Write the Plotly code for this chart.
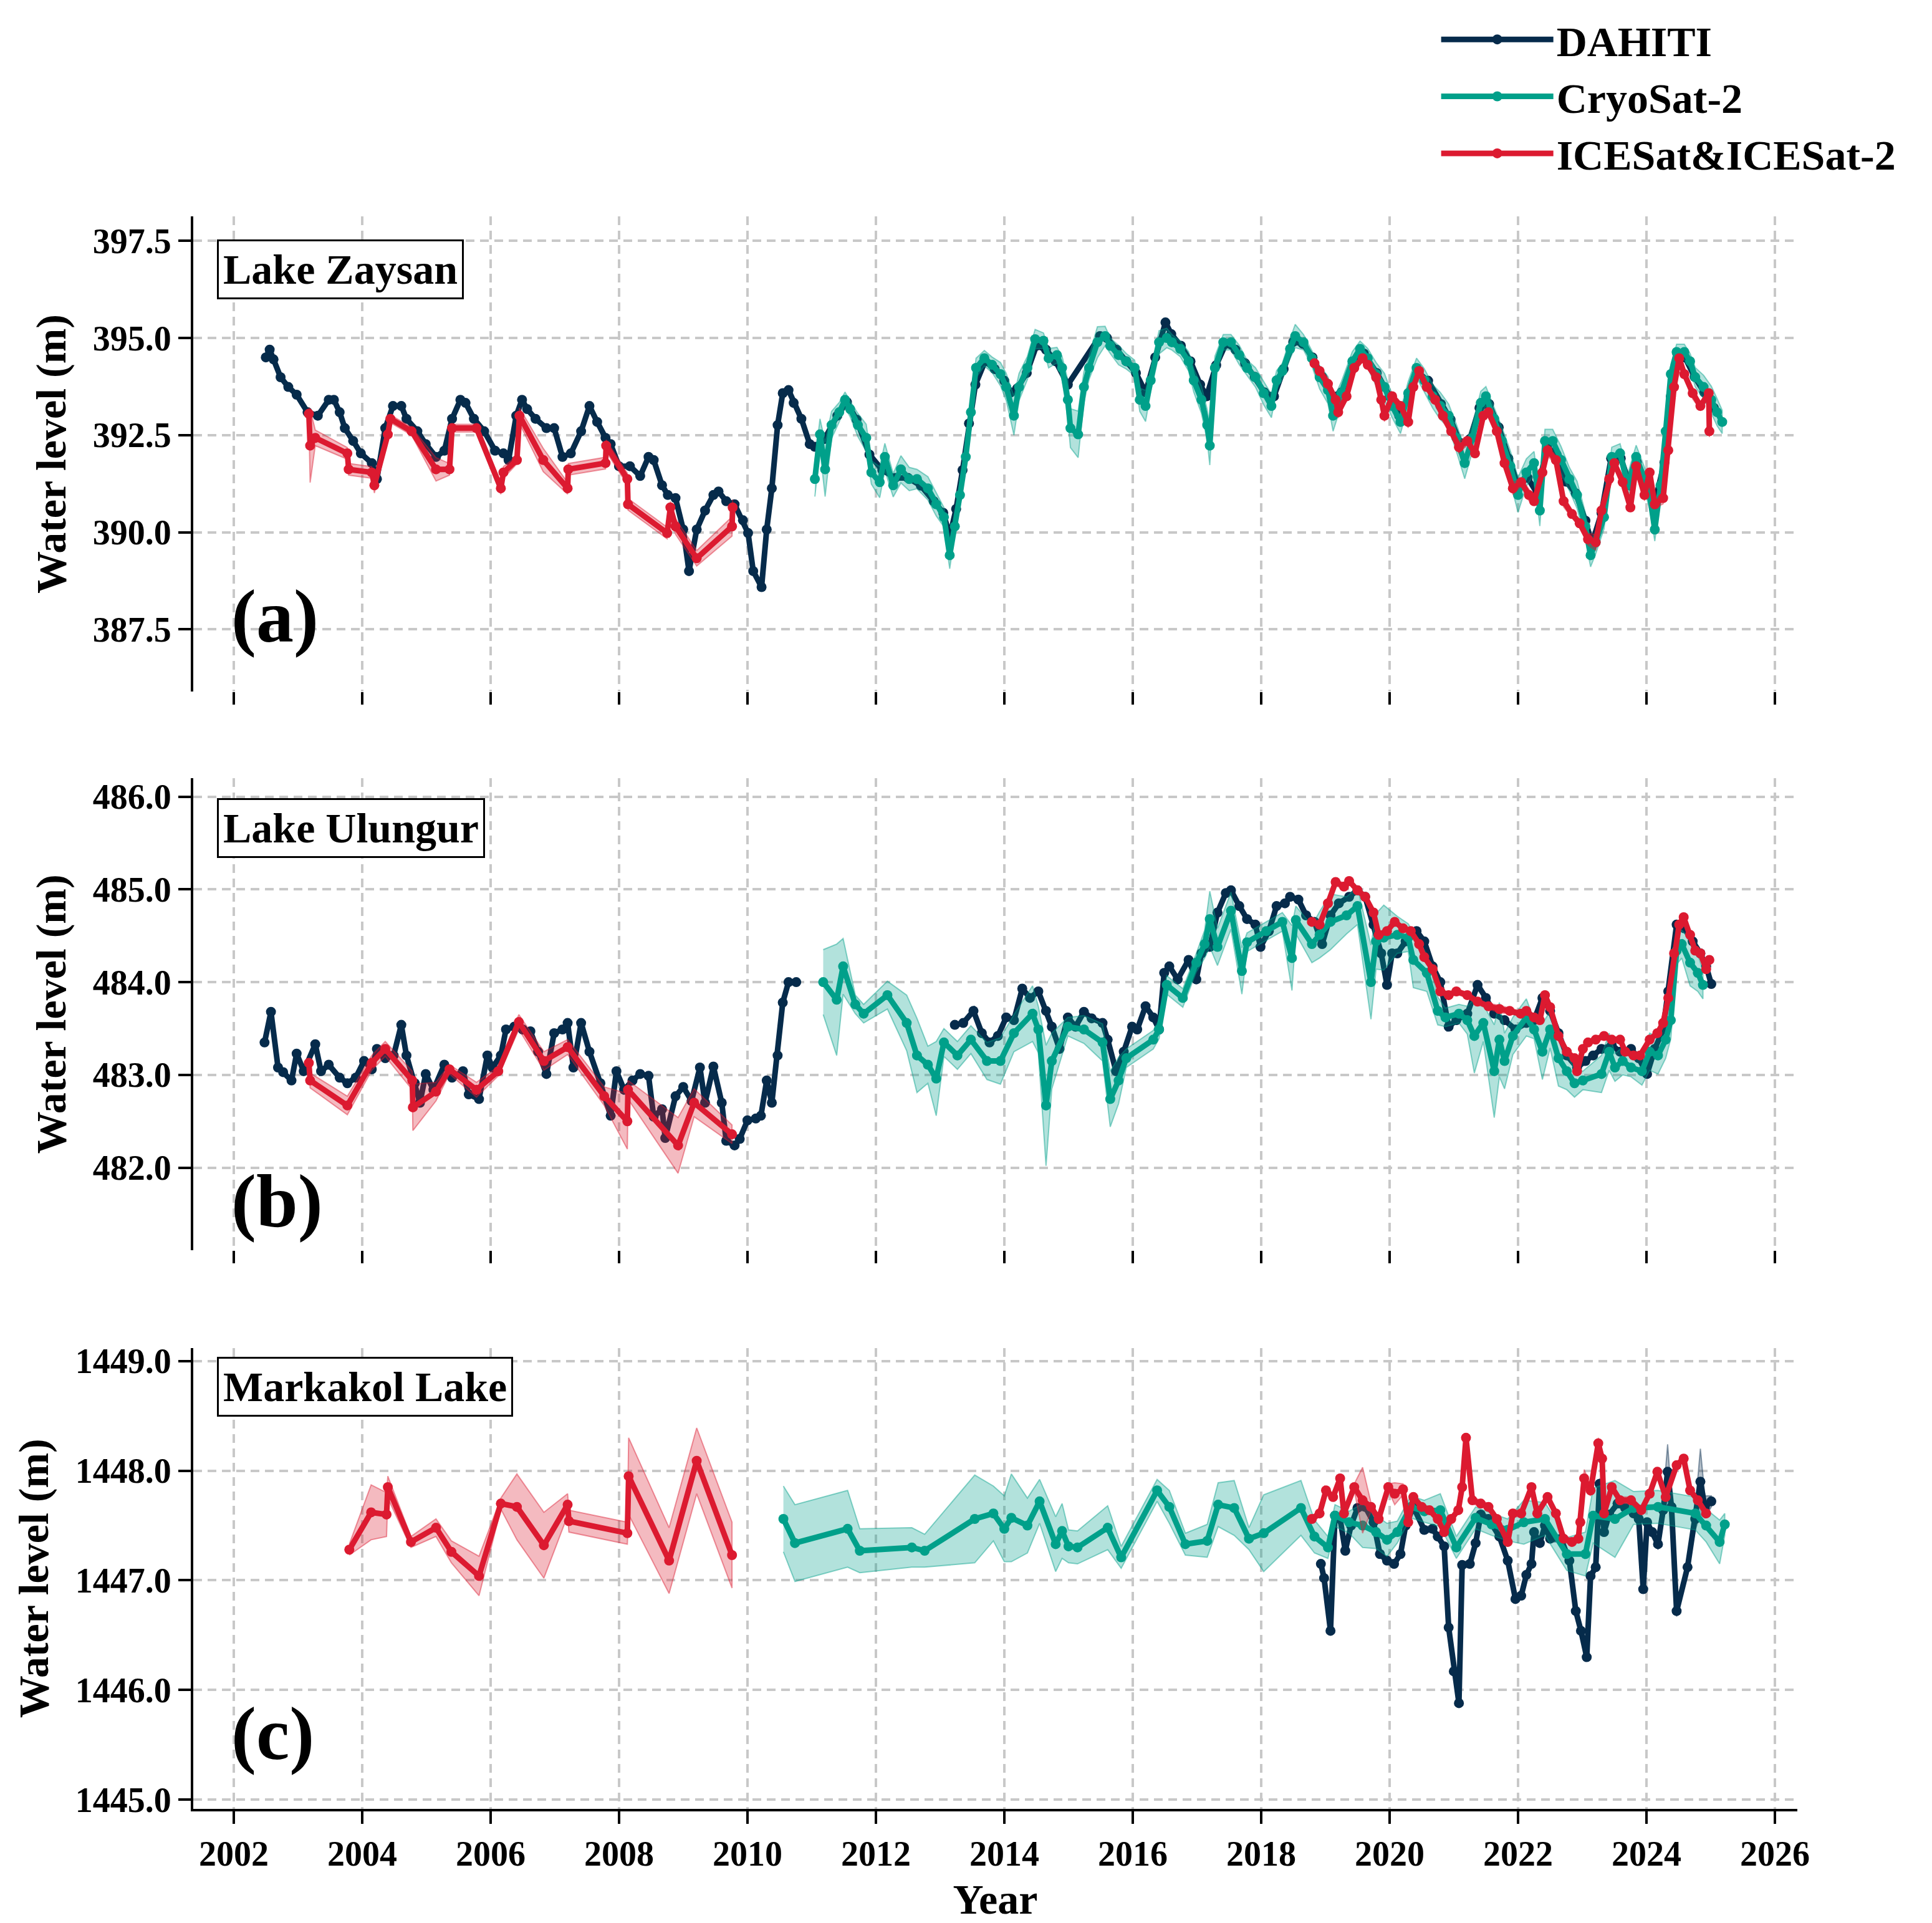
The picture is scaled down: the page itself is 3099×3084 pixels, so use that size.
import plotly.graph_objects as go
from plotly.subplots import make_subplots

# ---------------- Lake Zaysan ----------------
zaysan_dahiti_year = [2002.50, 2002.56, 2002.62, 2002.73, 2002.85, 2002.98, 2003.15, 2003.31, 2003.48, 2003.56,
                      2003.65, 2003.73, 2003.86, 2003.98, 2004.15, 2004.23, 2004.36, 2004.48, 2004.61, 2004.69,
                      2004.86, 2004.99, 2005.15, 2005.28, 2005.40, 2005.53, 2005.61, 2005.74, 2005.90, 2006.07,
                      2006.20, 2006.28, 2006.40, 2006.49, 2006.57, 2006.70, 2006.87, 2006.99, 2007.12, 2007.25,
                      2007.41, 2007.54, 2007.66, 2007.79, 2007.87, 2008.00, 2008.17, 2008.33, 2008.46, 2008.54,
                      2008.67, 2008.76, 2008.88, 2009.00, 2009.09, 2009.21, 2009.34, 2009.47, 2009.55, 2009.67,
                      2009.80, 2009.93, 2010.01, 2010.09, 2010.22, 2010.30, 2010.38, 2010.47, 2010.55, 2010.64,
                      2010.72, 2010.84, 2010.97, 2011.05, 2011.20, 2011.40, 2011.55, 2011.70, 2011.90, 2012.10,
                      2012.30, 2012.50, 2012.70, 2012.90, 2013.05, 2013.15, 2013.25, 2013.35, 2013.45, 2013.55,
                      2013.70, 2013.85, 2014.00, 2014.10, 2014.20, 2014.35, 2014.50, 2014.65, 2014.80, 2014.99,
                      2015.49, 2015.60, 2015.75, 2015.90, 2016.05, 2016.20, 2016.35, 2016.51, 2016.60, 2016.75,
                      2016.90, 2017.05, 2017.15, 2017.30, 2017.45, 2017.60, 2017.75, 2017.90, 2018.05, 2018.20,
                      2018.35, 2018.50, 2018.65, 2018.80, 2018.95, 2019.10, 2019.25, 2019.45, 2019.60, 2019.80,
                      2020.00, 2020.15, 2020.30, 2020.45, 2020.60, 2020.80, 2020.95, 2021.10, 2021.25, 2021.40,
                      2021.55, 2021.70, 2021.85, 2022.00, 2022.15, 2022.30, 2022.45, 2022.60, 2022.75, 2022.90,
                      2023.05, 2023.15, 2023.30, 2023.45, 2023.60, 2023.75, 2023.85, 2024.00, 2024.15, 2024.28,
                      2024.38, 2024.48, 2024.60, 2024.75, 2024.90, 2025.05]
zaysan_dahiti_level = [394.50, 394.70, 394.45, 393.99, 393.74, 393.54, 393.09, 393.00, 393.41, 393.41,
                       393.09, 392.68, 392.35, 392.03, 391.78, 391.37, 392.68, 393.25, 393.25, 392.92,
                       392.60, 392.27, 391.94, 392.10, 392.92, 393.41, 393.33, 392.92, 392.60, 392.10,
                       392.03, 391.86, 393.00, 393.41, 393.17, 392.92, 392.68, 392.68, 391.94, 392.03,
                       392.60, 393.25, 392.84, 392.43, 392.27, 391.70, 391.70, 391.45, 391.94, 391.86,
                       391.21, 390.96, 390.88, 390.07, 389.00, 390.07, 390.56, 390.96, 391.05, 390.80,
                       390.72, 390.31, 389.98, 389.00, 388.59, 390.07, 391.13, 392.76, 393.58, 393.66,
                       393.33, 392.92, 392.27, 392.20, 392.40, 393.00, 393.35, 392.90, 392.00, 391.60,
                       391.40, 391.40, 391.20, 390.80, 390.50, 389.90, 390.60, 391.60, 392.80, 393.80,
                       394.40, 394.20, 393.90, 393.60, 393.70, 394.10, 394.80, 394.70, 394.40, 393.80,
                       395.05, 395.00, 394.70, 394.40, 394.10, 393.60, 394.50, 395.40, 395.10, 394.80,
                       394.40, 393.80, 393.50, 394.30, 394.85, 394.70, 394.35, 394.00, 393.60, 393.50,
                       394.20, 394.90, 394.85, 394.50, 394.00, 393.50, 393.60, 394.40, 394.60, 394.10,
                       393.50, 393.00, 393.50, 394.10, 393.90, 393.30, 392.90, 392.30, 392.40, 393.20,
                       393.30, 392.70, 391.90, 391.20, 391.40, 391.00, 392.20, 392.00, 391.30, 391.00,
                       390.30, 389.70, 390.50, 391.90, 391.90, 391.20, 391.80, 391.20, 390.90, 391.80,
                       393.50, 394.60, 394.50, 394.00, 393.60, 393.20]

zaysan_cryo_year = [2011.05, 2011.13, 2011.21, 2011.31, 2011.43, 2011.52, 2011.60, 2011.72, 2011.85, 2011.93,
                    2012.06, 2012.14, 2012.27, 2012.39, 2012.52, 2012.64, 2012.81, 2012.94, 2013.06, 2013.15,
                    2013.23, 2013.31, 2013.40, 2013.48, 2013.56, 2013.69, 2013.81, 2013.94, 2014.03, 2014.15,
                    2014.23, 2014.36, 2014.48, 2014.61, 2014.69, 2014.82, 2014.90, 2014.99, 2015.03, 2015.15,
                    2015.24, 2015.32, 2015.45, 2015.57, 2015.65, 2015.78, 2015.90, 2016.03, 2016.11, 2016.20,
                    2016.28, 2016.41, 2016.53, 2016.61, 2016.74, 2016.87, 2016.95, 2017.07, 2017.16, 2017.20,
                    2017.28, 2017.41, 2017.53, 2017.66, 2017.78, 2017.91, 2018.04, 2018.16, 2018.24, 2018.33,
                    2018.45, 2018.53, 2018.66, 2018.79, 2018.91, 2019.04, 2019.12, 2019.25, 2019.42, 2019.54,
                    2019.66, 2019.79, 2019.92, 2020.04, 2020.17, 2020.29, 2020.42, 2020.54, 2020.67, 2020.79,
                    2020.92, 2021.04, 2021.17, 2021.29, 2021.42, 2021.50, 2021.63, 2021.75, 2021.88, 2022.00,
                    2022.13, 2022.25, 2022.34, 2022.42, 2022.54, 2022.67, 2022.80, 2022.92, 2023.05, 2023.13,
                    2023.21, 2023.34, 2023.46, 2023.59, 2023.71, 2023.84, 2023.97, 2024.05, 2024.13, 2024.22,
                    2024.30, 2024.38, 2024.47, 2024.59, 2024.68, 2024.76, 2024.89, 2025.01, 2025.10, 2025.18]
zaysan_cryo_level = [391.37, 392.52, 391.62, 392.76, 393.09, 393.41, 393.17, 392.76, 392.43, 391.54,
                     391.29, 391.94, 391.21, 391.62, 391.37, 391.37, 391.13, 390.72, 390.39, 389.41,
                     390.15, 390.96, 391.94, 393.09, 394.23, 394.48, 394.31, 394.07, 393.74, 393.00,
                     393.74, 394.23, 394.97, 394.93, 394.48, 394.56, 394.23, 393.41, 392.68, 392.52,
                     393.74, 394.23, 394.89, 395.05, 394.80, 394.56, 394.40, 394.23, 393.41, 393.25,
                     393.91, 394.89, 395.00, 394.89, 394.72, 394.40, 393.91, 393.41, 392.76, 392.23,
                     394.23, 394.89, 394.89, 394.56, 394.23, 393.99, 393.58, 393.25, 393.91, 394.15,
                     394.72, 395.05, 394.89, 394.48, 393.99, 393.66, 393.00, 393.58, 394.40, 394.72,
                     394.48, 394.07, 393.74, 393.25, 392.84, 393.58, 394.23, 393.91, 393.50, 393.25,
                     393.00, 392.43, 391.78, 392.43, 393.33, 393.50, 392.92, 392.35, 391.70, 390.96,
                     391.54, 391.78, 390.56, 392.35, 392.35, 391.86, 391.37, 390.96, 390.15, 389.41,
                     389.74, 390.39, 391.94, 392.03, 391.21, 391.94, 391.37, 390.96, 390.07, 391.21,
                     392.60, 394.07, 394.64, 394.64, 394.40, 393.99, 393.74, 393.41, 393.09, 392.84]
zaysan_cryo_err = [0.45, 0.40, 0.70, 0.35, 0.25, 0.20, 0.20, 0.30, 0.35, 0.30,
                   0.40, 0.35, 0.30, 0.35, 0.30, 0.25, 0.30, 0.30, 0.25, 0.35,
                   0.20, 0.20, 0.20, 0.20, 0.25, 0.20, 0.20, 0.30, 0.35, 0.50,
                   0.35, 0.30, 0.25, 0.20, 0.25, 0.20, 0.30, 0.50, 0.50, 0.60,
                   0.40, 0.30, 0.40, 0.25, 0.20, 0.25, 0.20, 0.20, 0.30, 0.40,
                   0.30, 0.30, 0.25, 0.20, 0.20, 0.25, 0.30, 0.35, 0.40, 0.50,
                   0.30, 0.20, 0.20, 0.25, 0.20, 0.25, 0.30, 0.30, 0.25, 0.20,
                   0.25, 0.30, 0.20, 0.20, 0.30, 0.35, 0.40, 0.30, 0.25, 0.20,
                   0.25, 0.30, 0.35, 0.30, 0.30, 0.30, 0.25, 0.30, 0.30, 0.35,
                   0.30, 0.35, 0.40, 0.35, 0.30, 0.25, 0.30, 0.35, 0.40, 0.45,
                   0.35, 0.30, 0.40, 0.30, 0.30, 0.35, 0.30, 0.35, 0.35, 0.30,
                   0.30, 0.30, 0.25, 0.25, 0.30, 0.30, 0.30, 0.35, 0.30, 0.30,
                   0.25, 0.25, 0.20, 0.20, 0.20, 0.25, 0.30, 0.35, 0.35, 0.30]

# ICESat (2003-2009) and ICESat-2 (2018-2025), separated by None
zaysan_ice_year = [2003.17, 2003.19, 2003.27, 2003.77, 2003.79, 2004.15, 2004.19, 2004.40, 2004.44, 2004.77,
                   2005.15, 2005.36, 2005.40, 2005.78, 2006.16, 2006.20, 2006.41, 2006.45, 2006.82, 2007.20,
                   2007.21, 2007.79, 2007.80, 2008.13, 2008.14, 2008.75, 2008.80, 2008.88, 2009.21, 2009.76,
                   2009.77, None,
                   2018.83, 2018.91, 2019.04, 2019.16, 2019.20, 2019.33, 2019.45, 2019.58, 2019.66, 2019.79,
                   2019.87, 2019.92, 2020.04, 2020.17, 2020.29, 2020.37, 2020.46, 2020.58, 2020.71, 2020.83,
                   2020.96, 2021.08, 2021.21, 2021.33, 2021.46, 2021.54, 2021.67, 2021.79, 2021.92, 2022.05,
                   2022.17, 2022.25, 2022.38, 2022.46, 2022.59, 2022.71, 2022.84, 2022.96, 2023.09, 2023.21,
                   2023.30, 2023.42, 2023.50, 2023.63, 2023.75, 2023.84, 2023.97, 2024.05, 2024.13, 2024.26,
                   2024.34, 2024.43, 2024.51, 2024.59, 2024.72, 2024.84, 2024.97, 2024.98]
zaysan_ice_level = [393.05, 392.23, 392.43, 392.03, 391.62, 391.54, 391.21, 392.52, 392.92, 392.60,
                    391.62, 391.62, 392.68, 392.68, 391.13, 391.54, 391.86, 393.00, 391.86, 391.13,
                    391.62, 391.78, 392.23, 391.37, 390.72, 389.98, 390.64, 390.15, 389.33, 390.15,
                    390.64, None,
                    394.35, 394.15, 393.82, 393.41, 393.09, 393.50, 394.23, 394.48, 394.31, 393.99,
                    393.41, 393.00, 393.50, 393.25, 392.84, 393.74, 394.15, 393.74, 393.41, 393.00,
                    392.60, 392.19, 392.35, 392.03, 393.00, 393.09, 392.60, 391.78, 391.13, 391.29,
                    390.96, 390.80, 391.54, 392.11, 391.86, 390.80, 390.47, 390.23, 389.82, 389.74,
                    390.56, 391.37, 391.78, 391.29, 390.64, 391.70, 390.96, 391.54, 390.72, 390.88,
                    392.11, 393.74, 394.48, 394.07, 393.58, 393.25, 393.58, 392.60]
zaysan_ice_err = [0.15, 0.95, 0.20, 0.15, 0.15, 0.15, 0.20, 0.15, 0.10, 0.10,
                  0.30, 0.15, 0.10, 0.10, 0.15, 0.15, 0.10, 0.20, 0.30, 0.15,
                  0.15, 0.15, 0.15, 0.15, 0.15, 0.15, 0.15, 0.20, 0.20, 0.25,
                  0.20, None,
                  0.10, 0.10, 0.15, 0.10, 0.15, 0.10, 0.10, 0.10, 0.10, 0.15,
                  0.10, 0.15, 0.10, 0.10, 0.15, 0.10, 0.10, 0.10, 0.10, 0.15,
                  0.10, 0.15, 0.10, 0.10, 0.10, 0.10, 0.15, 0.10, 0.15, 0.10,
                  0.15, 0.10, 0.10, 0.15, 0.10, 0.15, 0.10, 0.10, 0.15, 0.20,
                  0.15, 0.10, 0.10, 0.15, 0.10, 0.10, 0.15, 0.10, 0.10, 0.15,
                  0.10, 0.10, 0.10, 0.10, 0.15, 0.10, 0.10, 0.15]

# ---------------- Lake Ulungur ----------------
ulungur_dahiti_year = [2002.48, 2002.58, 2002.69, 2002.77, 2002.90, 2002.98, 2003.09, 2003.27, 2003.36, 2003.48,
                       2003.65, 2003.77, 2003.90, 2004.03, 2004.15, 2004.23, 2004.36, 2004.49, 2004.61, 2004.69,
                       2004.82, 2004.90, 2004.99, 2005.11, 2005.28, 2005.40, 2005.57, 2005.66, 2005.82, 2005.95,
                       2006.03, 2006.16, 2006.24, 2006.37, 2006.50, 2006.62, 2006.74, 2006.87, 2006.99, 2007.12,
                       2007.20, 2007.29, 2007.41, 2007.54, 2007.71, 2007.87, 2007.96, 2008.08, 2008.21, 2008.33,
                       2008.46, 2008.54, 2008.67, 2008.72, 2008.88, 2009.00, 2009.13, 2009.26, 2009.34, 2009.47,
                       2009.60, 2009.67, 2009.80, 2009.88, 2010.00, 2010.13, 2010.21, 2010.30, 2010.38, 2010.47,
                       2010.55, 2010.64, 2010.76, None,
                       2013.23, 2013.36, 2013.52, 2013.65, 2013.77, 2013.90, 2014.03, 2014.15, 2014.28, 2014.40,
                       2014.53, 2014.65, 2014.74, 2014.86, 2014.99, 2015.11, 2015.24, 2015.36, 2015.53, 2015.61,
                       2015.74, 2015.86, 2015.99, 2016.07, 2016.20, 2016.32, 2016.41, 2016.49, 2016.57, 2016.70,
                       2016.87, 2016.99, 2017.07, 2017.20, 2017.32, 2017.45, 2017.53, 2017.66, 2017.78, 2017.91,
                       2017.99, 2018.12, 2018.24, 2018.37, 2018.45, 2018.58, 2018.70, 2018.83, 2018.95, 2019.08,
                       2019.21, 2019.37, 2019.50, 2019.62, 2019.75, 2019.87, 2019.96, 2020.04, 2020.12, 2020.25,
                       2020.42, 2020.54, 2020.67, 2020.79, 2020.92, 2021.04, 2021.21, 2021.37, 2021.50, 2021.63,
                       2021.79, 2021.96, 2022.13, 2022.25, 2022.38, 2022.50, 2022.63, 2022.76, 2022.92, 2023.05,
                       2023.17, 2023.30, 2023.46, 2023.59, 2023.76, 2023.88, 2024.01, 2024.13, 2024.26, 2024.34,
                       2024.47, 2024.59, 2024.72, 2024.84, 2024.93, 2025.01]
ulungur_dahiti_level = [483.35, 483.68, 483.08, 483.03, 482.94, 483.23, 483.04, 483.33, 483.04, 483.11,
                        482.97, 482.91, 482.97, 483.15, 483.06, 483.28, 483.18, 483.21, 483.54, 483.21,
                        482.91, 482.70, 483.01, 482.84, 483.11, 482.97, 483.04, 482.79, 482.74, 483.21,
                        483.08, 483.21, 483.49, 483.52, 483.49, 483.47, 483.25, 483.01, 483.45, 483.49,
                        483.56, 483.08, 483.56, 483.25, 482.91, 482.56, 483.04, 482.84, 482.94, 483.01,
                        482.99, 482.55, 482.63, 482.32, 482.77, 482.87, 482.72, 483.08, 482.70, 483.09,
                        482.70, 482.29, 482.24, 482.31, 482.51, 482.53, 482.56, 482.94, 482.70, 483.21,
                        483.78, 484.00, 484.00, None,
                        483.54, 483.56, 483.69, 483.45, 483.35, 483.42, 483.62, 483.59, 483.93, 483.83,
                        483.90, 483.69, 483.52, 483.28, 483.62, 483.52, 483.68, 483.61, 483.56, 483.38,
                        483.04, 483.25, 483.52, 483.49, 483.74, 483.62, 483.49, 484.10, 484.17, 484.03,
                        484.24, 484.03, 484.31, 484.38, 484.75, 484.96, 484.99, 484.82, 484.68, 484.62,
                        484.38, 484.55, 484.82, 484.85, 484.92, 484.89, 484.72, 484.65, 484.41, 484.72,
                        484.85, 484.92, 484.99, 484.92, 484.62, 484.31, 483.97, 484.31, 484.31, 484.44,
                        484.55, 484.44, 484.17, 484.00, 483.52, 483.59, 483.66, 483.97, 483.83, 483.66,
                        483.59, 483.49, 483.56, 483.59, 483.83, 483.69, 483.45, 483.21, 483.08, 483.15,
                        483.21, 483.28, 483.32, 483.25, 483.28, 483.18, 483.01, 483.28, 483.49, 483.90,
                        484.62, 484.58, 484.44, 484.31, 484.17, 483.98]

ulungur_cryo_year = [2011.18, 2011.39, 2011.49, 2011.68, 2011.81, 2012.18, 2012.48, 2012.64, 2012.81, 2012.94,
                     2013.06, 2013.27, 2013.48, 2013.73, 2013.94, 2014.15, 2014.44, 2014.53, 2014.65, 2014.74,
                     2014.99, 2015.24, 2015.53, 2015.65, 2015.78, 2015.90, 2016.32, 2016.41, 2016.53, 2016.78,
                     2016.99, 2017.12, 2017.20, 2017.32, 2017.53, 2017.70, 2017.78, 2018.08, 2018.33, 2018.48,
                     2018.54, 2018.79, 2018.91, 2019.08, 2019.33, 2019.50, 2019.71, 2019.79, 2019.91, 2020.12,
                     2020.29, 2020.37, 2020.58, 2020.75, 2020.87, 2021.08, 2021.21, 2021.32, 2021.46, 2021.63,
                     2021.71, 2021.79, 2021.92, 2022.13, 2022.25, 2022.38, 2022.50, 2022.63, 2022.76, 2022.88,
                     2023.01, 2023.30, 2023.42, 2023.51, 2023.63, 2023.76, 2023.93, 2024.05, 2024.18, 2024.30,
                     2024.38, 2024.47, 2024.55, 2024.68, 2024.80, 2024.88]
ulungur_cryo_level = [484.00, 483.81, 484.17, 483.76, 483.66, 483.86, 483.56, 483.21, 483.11, 482.96,
                      483.35, 483.21, 483.38, 483.15, 483.15, 483.45, 483.66, 483.49, 482.67, 483.15,
                      483.52, 483.49, 483.35, 482.74, 482.94, 483.18, 483.38, 483.49, 483.97, 483.83,
                      484.21, 484.41, 484.68, 484.38, 484.77, 484.12, 484.43, 484.55, 484.65, 484.26,
                      484.67, 484.41, 484.51, 484.65, 484.72, 484.82, 484.00, 484.44, 484.48, 484.51,
                      484.48, 484.24, 484.10, 483.69, 483.62, 483.66, 483.59, 483.42, 483.56, 483.04,
                      483.38, 483.15, 483.42, 483.62, 483.49, 483.25, 483.49, 483.18, 483.04, 482.91,
                      482.94, 483.01, 483.25, 483.08, 483.15, 483.08, 483.04, 483.25, 483.21, 483.38,
                      483.59, 484.34, 484.41, 484.21, 484.10, 483.97]
ulungur_cryo_err = [0.35, 0.60, 0.30, 0.10, 0.10, 0.15, 0.30, 0.40, 0.20, 0.40,
                    0.15, 0.15, 0.15, 0.20, 0.25, 0.20, 0.30, 0.25, 0.65, 0.30,
                    0.10, 0.15, 0.20, 0.30, 0.25, 0.10, 0.10, 0.10, 0.10, 0.10,
                    0.10, 0.15, 0.30, 0.20, 0.20, 0.25, 0.10, 0.10, 0.10, 0.35,
                    0.15, 0.20, 0.25, 0.30, 0.20, 0.20, 0.40, 0.30, 0.35, 0.20,
                    0.15, 0.30, 0.20, 0.15, 0.10, 0.10, 0.15, 0.40, 0.20, 0.50,
                    0.40, 0.30, 0.20, 0.20, 0.10, 0.30, 0.20, 0.30, 0.20, 0.15,
                    0.10, 0.20, 0.20, 0.15, 0.15, 0.10, 0.15, 0.20, 0.20, 0.20,
                    0.20, 0.15, 0.15, 0.25, 0.20, 0.15]

ulungur_ice_year = [2003.17, 2003.19, 2003.77, 2004.15, 2004.36, 2004.78, 2004.79, 2005.15, 2005.36, 2005.78,
                    2006.12, 2006.44, 2006.83, 2007.20, 2007.77, 2008.13, 2008.14, 2008.92, 2009.17, 2009.76,
                    None,
                    2018.79, 2018.91, 2019.04, 2019.16, 2019.29, 2019.37, 2019.50, 2019.62, 2019.75, 2019.83,
                    2019.96, 2020.08, 2020.21, 2020.33, 2020.46, 2020.54, 2020.67, 2020.79, 2020.92, 2021.04,
                    2021.21, 2021.37, 2021.54, 2021.71, 2021.87, 2022.04, 2022.13, 2022.25, 2022.34, 2022.42,
                    2022.50, 2022.63, 2022.76, 2022.88, 2022.92, 2023.01, 2023.09, 2023.21, 2023.34, 2023.46,
                    2023.59, 2023.67, 2023.80, 2023.90, 2024.05, 2024.17, 2024.26, 2024.34, 2024.43, 2024.51,
                    2024.58, 2024.68, 2024.76, 2024.84, 2024.93, 2024.98]
ulungur_ice_level = [483.13, 482.94, 482.67, 483.13, 483.28, 482.94, 482.65, 482.82, 483.06, 482.84,
                     483.04, 483.57, 483.15, 483.30, 482.77, 482.50, 482.84, 482.24, 482.70, 482.36,
                     None,
                     484.65, 484.62, 484.85, 485.08, 485.03, 485.09, 484.99, 484.92, 484.75, 484.51,
                     484.55, 484.65, 484.58, 484.55, 484.41, 484.27, 484.14, 483.90, 483.86, 483.90,
                     483.86, 483.79, 483.74, 483.71, 483.69, 483.66, 483.69, 483.62, 483.59, 483.86,
                     483.73, 483.42, 483.25, 483.18, 483.04, 483.28, 483.35, 483.38, 483.42, 483.38,
                     483.38, 483.25, 483.21, 483.21, 483.38, 483.45, 483.56, 483.83, 484.31, 484.62,
                     484.70, 484.51, 484.34, 484.31, 484.14, 484.24]
ulungur_ice_err = [0.05, 0.08, 0.10, 0.08, 0.08, 0.10, 0.25, 0.10, 0.05, 0.08,
                   0.05, 0.08, 0.10, 0.08, 0.10, 0.30, 0.10, 0.30, 0.15, 0.10,
                   None,
                   0.03, 0.03, 0.03, 0.04, 0.03, 0.03, 0.03, 0.03, 0.04, 0.03,
                   0.03, 0.03, 0.03, 0.03, 0.03, 0.03, 0.03, 0.03, 0.03, 0.03,
                   0.03, 0.03, 0.03, 0.04, 0.03, 0.03, 0.03, 0.03, 0.03, 0.03,
                   0.03, 0.03, 0.03, 0.03, 0.04, 0.03, 0.03, 0.03, 0.03, 0.03,
                   0.03, 0.03, 0.03, 0.03, 0.03, 0.03, 0.03, 0.03, 0.03, 0.04,
                   0.04, 0.03, 0.03, 0.03, 0.03, 0.03]

# ---------------- Markakol Lake ----------------
markakol_dahiti_year = [2018.93, 2018.98, 2019.08, 2019.15, 2019.23, 2019.31, 2019.40, 2019.50, 2019.62, 2019.75,
                        2019.85, 2019.96, 2020.07, 2020.17, 2020.25, 2020.37, 2020.54, 2020.67, 2020.75, 2020.85,
                        2020.92, 2021.00, 2021.08, 2021.13, 2021.25, 2021.34, 2021.42, 2021.54, 2021.71, 2021.84,
                        2021.96, 2022.05, 2022.13, 2022.21, 2022.25, 2022.34, 2022.42, 2022.50, 2022.67, 2022.80,
                        2022.90, 2022.98, 2023.07, 2023.13, 2023.21, 2023.27, 2023.34, 2023.42, 2023.55, 2023.67,
                        2023.80, 2023.88, 2023.95, 2024.01, 2024.09, 2024.18, 2024.26, 2024.33, 2024.39, 2024.47,
                        2024.64, 2024.76, 2024.84, 2024.91, 2025.01]
markakol_dahiti_level = [1447.15, 1447.02, 1446.54, 1447.59, 1447.56, 1447.27, 1447.50, 1447.66, 1447.67, 1447.53,
                         1447.24, 1447.18, 1447.15, 1447.24, 1447.50, 1447.67, 1447.46, 1447.47, 1447.40, 1447.31,
                         1446.57, 1446.17, 1445.88, 1447.14, 1447.15, 1447.34, 1447.60, 1447.56, 1447.40, 1447.18,
                         1446.83, 1446.86, 1447.05, 1447.15, 1447.44, 1447.34, 1447.50, 1447.38, 1447.38, 1447.18,
                         1446.72, 1446.54, 1446.30, 1447.04, 1447.12, 1447.88, 1447.44, 1447.60, 1447.70, 1447.66,
                         1447.61, 1447.56, 1446.92, 1447.53, 1447.44, 1447.33, 1447.64, 1447.99, 1447.67, 1446.72,
                         1447.12, 1447.56, 1447.90, 1447.67, 1447.72]
markakol_dahiti_err = [0.03, 0.03, 0.03, 0.03, 0.03, 0.03, 0.03, 0.03, 0.03, 0.03,
                       0.03, 0.03, 0.03, 0.03, 0.03, 0.03, 0.03, 0.03, 0.03, 0.03,
                       0.03, 0.03, 0.03, 0.03, 0.03, 0.03, 0.03, 0.03, 0.03, 0.03,
                       0.03, 0.03, 0.03, 0.03, 0.03, 0.03, 0.03, 0.03, 0.03, 0.03,
                       0.03, 0.03, 0.03, 0.03, 0.03, 0.05, 0.03, 0.03, 0.03, 0.03,
                       0.03, 0.03, 0.03, 0.03, 0.03, 0.05, 0.10, 0.25, 0.10, 0.05,
                       0.05, 0.10, 0.30, 0.10, 0.05]

markakol_cryo_year = [2010.56, 2010.74, 2011.56, 2011.75, 2012.56, 2012.76, 2013.54, 2013.83, 2014.00, 2014.11,
                      2014.36, 2014.55, 2014.80, 2014.90, 2015.00, 2015.14, 2015.61, 2015.82, 2016.38, 2016.57,
                      2016.82, 2017.16, 2017.33, 2017.58, 2017.81, 2018.04, 2018.62, 2018.83, 2019.04, 2019.15,
                      2019.37, 2019.58, 2019.79, 2019.96, 2020.12, 2020.33, 2020.54, 2020.79, 2021.04, 2021.34,
                      2021.59, 2021.84, 2022.09, 2022.42, 2022.76, 2023.05, 2023.17, 2023.51, 2023.80, 2024.18,
                      2024.76, 2024.93, 2025.14, 2025.22]
markakol_cryo_level = [1447.56, 1447.34, 1447.47, 1447.27, 1447.30, 1447.27, 1447.56, 1447.61, 1447.47, 1447.57,
                       1447.50, 1447.72, 1447.33, 1447.45, 1447.31, 1447.30, 1447.48, 1447.21, 1447.82, 1447.67,
                       1447.33, 1447.36, 1447.69, 1447.66, 1447.38, 1447.43, 1447.66, 1447.40, 1447.30, 1447.59,
                       1447.53, 1447.50, 1447.44, 1447.37, 1447.44, 1447.67, 1447.63, 1447.64, 1447.30, 1447.57,
                       1447.51, 1447.46, 1447.53, 1447.56, 1447.24, 1447.24, 1447.59, 1447.56, 1447.66, 1447.67,
                       1447.61, 1447.50, 1447.35, 1447.51]
markakol_cryo_err = [0.30, 0.35, 0.35, 0.20, 0.18, 0.15, 0.40, 0.25, 0.30, 0.40,
                     0.25, 0.20, 0.25, 0.25, 0.15, 0.15, 0.20, 0.10, 0.10, 0.15,
                     0.10, 0.15, 0.20, 0.25, 0.10, 0.35, 0.25, 0.15, 0.10, 0.10,
                     0.10, 0.20, 0.15, 0.15, 0.10, 0.10, 0.10, 0.15, 0.10, 0.10,
                     0.10, 0.10, 0.20, 0.15, 0.15, 0.20, 0.25, 0.35, 0.15, 0.15,
                     0.15, 0.15, 0.20, 0.10]

markakol_ice_year = [2003.80, 2004.14, 2004.38, 2004.40, 2004.76, 2005.15, 2005.39, 2005.82, 2006.16, 2006.41,
                     2006.83, 2007.20, 2007.22, 2008.13, 2008.15, 2008.78, 2009.21, 2009.76,
                     None,
                     2018.79, 2018.91, 2019.01, 2019.12, 2019.23, 2019.29, 2019.45, 2019.58, 2019.71, 2019.83,
                     2019.98, 2020.08, 2020.21, 2020.29, 2020.37, 2020.50, 2020.62, 2020.75, 2020.85, 2020.96,
                     2021.07, 2021.13, 2021.19, 2021.29, 2021.42, 2021.54, 2021.67, 2021.84, 2021.92, 2022.05,
                     2022.21, 2022.30, 2022.46, 2022.59, 2022.71, 2022.84, 2022.94, 2022.97, 2023.03, 2023.13,
                     2023.25, 2023.31, 2023.34, 2023.46, 2023.59, 2023.76, 2023.92, 2024.05, 2024.17, 2024.30,
                     2024.47, 2024.58, 2024.68, 2024.80, 2024.93]
markakol_ice_level = [1447.28, 1447.62, 1447.60, 1447.85, 1447.35, 1447.48, 1447.26, 1447.04, 1447.70, 1447.67,
                      1447.32, 1447.69, 1447.54, 1447.43, 1447.95, 1447.18, 1448.09, 1447.23,
                      None,
                      1447.56, 1447.61, 1447.82, 1447.76, 1447.93, 1447.61, 1447.85, 1447.73, 1447.67, 1447.56,
                      1447.85, 1447.79, 1447.83, 1447.53, 1447.76, 1447.67, 1447.64, 1447.56, 1447.44, 1447.56,
                      1447.64, 1447.85, 1448.30, 1447.73, 1447.70, 1447.67, 1447.56, 1447.35, 1447.61, 1447.61,
                      1447.85, 1447.61, 1447.76, 1447.61, 1447.38, 1447.35, 1447.38, 1447.53, 1447.93, 1447.82,
                      1448.25, 1448.11, 1447.61, 1447.85, 1447.73, 1447.73, 1447.64, 1447.79, 1447.99, 1447.76,
                      1448.05, 1448.11, 1447.82, 1447.73, 1447.61]
markakol_ice_err = [0.05, 0.25, 0.20, 0.10, 0.05, 0.08, 0.10, 0.18, 0.05, 0.30,
                    0.30, 0.10, 0.10, 0.10, 0.35, 0.30, 0.30, 0.30,
                    None,
                    0.03, 0.03, 0.04, 0.03, 0.03, 0.03, 0.03, 0.30, 0.04, 0.03,
                    0.03, 0.10, 0.05, 0.03, 0.03, 0.03, 0.03, 0.03, 0.03, 0.03,
                    0.03, 0.03, 0.03, 0.03, 0.03, 0.03, 0.03, 0.03, 0.03, 0.03,
                    0.03, 0.03, 0.03, 0.03, 0.03, 0.03, 0.03, 0.03, 0.08, 0.05,
                    0.05, 0.03, 0.03, 0.03, 0.03, 0.03, 0.03, 0.03, 0.04, 0.03,
                    0.03, 0.03, 0.03, 0.03, 0.03]

# ---------------- styling ----------------
NAVY = "#062B4B"
TEAL = "#00A08A"
RED = "#DC1A30"
FONT = "Liberation Serif, Times New Roman, serif"


def rgba(hex_color, alpha):
    h = hex_color.lstrip("#")
    r, g, b = int(h[0:2], 16), int(h[2:4], 16), int(h[4:6], 16)
    return "rgba(%d,%d,%d,%.2f)" % (r, g, b, alpha)


def split_runs(years, levels, errs):
    # break a series at None into contiguous pieces
    runs, cur = [], []
    for yr, lv, er in zip(years, levels, errs):
        if yr is None:
            if cur:
                runs.append(cur)
            cur = []
            continue
        cur.append((yr, lv, er))
    if cur:
        runs.append(cur)
    return runs


def add_band(fig, row, years, levels, errs, color, alpha):
    for run in split_runs(years, levels, errs):
        xs = [p[0] for p in run]
        up = [p[1] + p[2] for p in run]
        lo = [p[1] - p[2] for p in run]
        fig.add_trace(go.Scatter(x=xs + xs[::-1], y=up + lo[::-1], mode="lines",
                                 fill="toself", fillcolor=rgba(color, alpha),
                                 line=dict(color=rgba(color, alpha + 0.15), width=2),
                                 hoverinfo="skip", showlegend=False),
                      row=row, col=1)


def add_series(fig, row, years, levels, color, name, legend):
    fig.add_trace(go.Scatter(x=years, y=levels, mode="lines+markers", name=name,
                             line=dict(color=color, width=9),
                             marker=dict(color=color, size=16),
                             showlegend=legend, connectgaps=False),
                  row=row, col=1)


fig = make_subplots(rows=3, cols=1)

lakes = [
    (1, zaysan_dahiti_year, zaysan_dahiti_level, None,
     zaysan_cryo_year, zaysan_cryo_level, zaysan_cryo_err,
     zaysan_ice_year, zaysan_ice_level, zaysan_ice_err),
    (2, ulungur_dahiti_year, ulungur_dahiti_level, None,
     ulungur_cryo_year, ulungur_cryo_level, ulungur_cryo_err,
     ulungur_ice_year, ulungur_ice_level, ulungur_ice_err),
    (3, markakol_dahiti_year, markakol_dahiti_level, markakol_dahiti_err,
     markakol_cryo_year, markakol_cryo_level, markakol_cryo_err,
     markakol_ice_year, markakol_ice_level, markakol_ice_err),
]

for row, dy, dl, de, cy, cl, ce, iy, il, ie in lakes:
    first = row == 1
    if de is not None:
        add_band(fig, row, dy, dl, de, NAVY, 0.3)
    add_series(fig, row, dy, dl, NAVY, "DAHITI", first)
    add_band(fig, row, cy, cl, ce, TEAL, 0.3)
    add_series(fig, row, cy, cl, TEAL, "CryoSat-2", first)
    add_band(fig, row, iy, il, ie, RED, 0.3)
    add_series(fig, row, iy, il, RED, "ICESat&ICESat-2", first)

tick_font = dict(family=FONT, size=56, color="black", weight="bold")
title_font = dict(family=FONT, size=68, color="black", weight="bold")
grid = dict(showgrid=True, gridcolor="#c8c8c8", gridwidth=3.5, griddash="14px,9px")

for row in (1, 2, 3):
    fig.update_xaxes(range=[2001.37, 2026.35], tickvals=list(range(2002, 2027, 2)),
                     ticks="outside", ticklen=20, tickwidth=4, tickcolor="black",
                     showline=(row == 3), linecolor="black", linewidth=4,
                     showticklabels=(row == 3), tickfont=tick_font, zeroline=False,
                     automargin=False, row=row, col=1, **grid)
fig.update_xaxes(title=dict(text="Year", font=title_font, standoff=22), row=3, col=1)

y_ranges = {1: [385.9, 398.13], 2: [481.11, 486.2], 3: [1444.916, 1449.12]}
y_dticks = {1: 2.5, 2: 1.0, 3: 1.0}
y_tick0 = {1: 387.5, 2: 482.0, 3: 1445.0}
for row in (1, 2, 3):
    fig.update_yaxes(range=y_ranges[row], dtick=y_dticks[row], tick0=y_tick0[row], tickformat=".1f",
                     ticks="outside", ticklen=20, tickwidth=4, tickcolor="black",
                     showline=True, linecolor="black", linewidth=4, zeroline=False,
                     tickfont=tick_font, automargin=False,
                     title=dict(text="Water level (m)", font=title_font, standoff=22),
                     row=row, col=1, **grid)

fig.update_layout(
    yaxis=dict(domain=[0.7016, 1.0]),
    yaxis2=dict(domain=[0.3508, 0.6473]),
    yaxis3=dict(domain=[0.0, 0.2895]),
)

# lake name boxes and panel letters
lake_names = ["Lake Zaysan", "Lake Ulungur", "Markakol Lake"]
name_y = [0.888, 0.894, 0.916]
letters = ["(a)", "(b)", "(c)"]
letter_y = [387.83, 481.64, 1445.6]
for i in range(3):
    sfx = "" if i == 0 else str(i + 1)
    fig.add_annotation(text=lake_names[i], xref="x%s domain" % sfx, yref="y%s domain" % sfx,
                       x=0.0148, y=name_y[i], xanchor="left", yanchor="middle", showarrow=False,
                       font=title_font, bgcolor="white", bordercolor="black", borderwidth=3, borderpad=7)
    fig.add_annotation(text=letters[i], xref="x%s domain" % sfx, yref="y" + sfx,
                       x=0.023, y=letter_y[i], xanchor="left", yanchor="middle", showarrow=False,
                       font=dict(family=FONT, size=120, color="black", weight="bold"))

fig.update_layout(
    width=3099, height=3084,
    margin=dict(l=310, r=216, t=341, b=183),
    plot_bgcolor="white", paper_bgcolor="white",
    font=dict(family=FONT, color="black"),
    legend=dict(x=0.776, y=1.131, xanchor="left", yanchor="top",
                font=title_font, itemwidth=180, tracegroupgap=0,
                bgcolor="rgba(0,0,0,0)"),
)

fig.write_html("out.html", config={"displayModeBar": False},
               post_script="document.body.style.margin='0';")
